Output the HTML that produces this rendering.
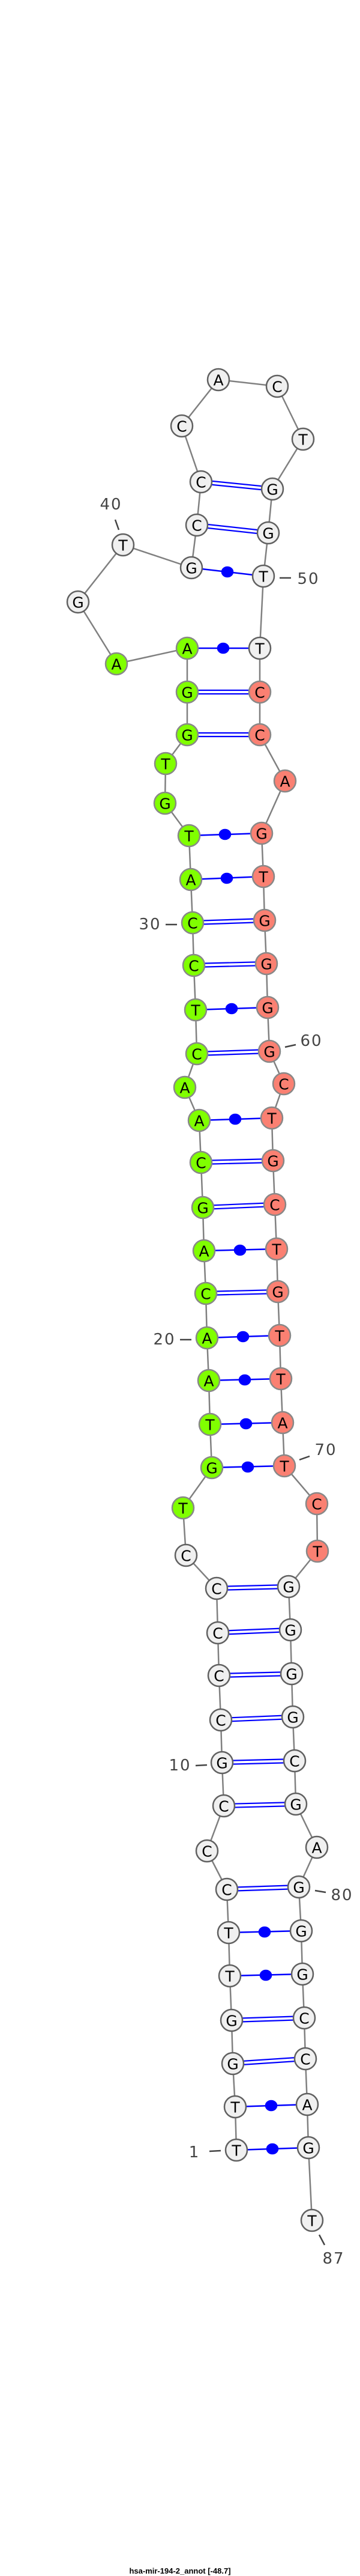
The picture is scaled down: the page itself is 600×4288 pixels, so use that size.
<!DOCTYPE html>
<html><head><meta charset="utf-8"><style>html,body{margin:0;padding:0;background:#fff}svg{display:block}</style></head><body>
<svg width="600" height="4288" viewBox="0 0 600 4288" xmlns="http://www.w3.org/2000/svg">
<rect width="600" height="4288" fill="#fff"/>
<polyline fill="none" stroke="#808080" stroke-width="2.5" points="394,3579 392,3507 388,3435 386,3363 383,3289 381,3217 378,3145 345,3081 373,3006 370,2934 368,2863 365,2789 363,2718 361,2644 310,2589 305,2510 353,2443 350,2371 348,2298 345,2227 343,2153 340,2082 338,2010 335,1935 332,1865 308,1810 328,1754 326,1681 323,1607 321,1536 318,1464 315,1391 275,1337 276,1271 312,1223 312,1152 312,1079 194,1105 130,1002 205,907 319,945 328,874 335,802 303,709 364,632 462,643 505,731 454,814 447,887 439,959 433,1079 433,1152 433,1223 475,1300 436,1387 439,1459 441,1532 444,1604 446,1677 449,1750 473,1804 453,1861 455,1932 458,2005 461,2079 463,2150 466,2223 468,2295 471,2368 474,2440 528,2503 529,2582 481,2641 484,2713 486,2786 488,2858 491,2931 493,3003 528,3075 498,3141 502,3214 504,3286 507,3359 509,3427 512,3503 514,3575 520,3696"/>
<g stroke="#0000ff" stroke-width="2.5" fill="#0000ff">
<line x1="394" y1="3579" x2="514" y2="3575"/><ellipse cx="454" cy="3577" rx="9" ry="8"/>
<line x1="392" y1="3507" x2="512" y2="3503"/><ellipse cx="452" cy="3505" rx="9" ry="8"/>
<line x1="383" y1="3289" x2="504" y2="3286"/><ellipse cx="443" cy="3288" rx="9" ry="8"/>
<line x1="381" y1="3217" x2="502" y2="3214"/><ellipse cx="441" cy="3216" rx="9" ry="8"/>
<line x1="353" y1="2443" x2="474" y2="2440"/><ellipse cx="413" cy="2442" rx="9" ry="8"/>
<line x1="350" y1="2371" x2="471" y2="2368"/><ellipse cx="410" cy="2370" rx="9" ry="8"/>
<line x1="348" y1="2298" x2="468" y2="2295"/><ellipse cx="408" cy="2297" rx="9" ry="8"/>
<line x1="345" y1="2227" x2="466" y2="2223"/><ellipse cx="405" cy="2225" rx="9" ry="8"/>
<line x1="340" y1="2082" x2="461" y2="2079"/><ellipse cx="400" cy="2081" rx="9" ry="8"/>
<line x1="332" y1="1865" x2="453" y2="1861"/><ellipse cx="392" cy="1863" rx="9" ry="8"/>
<line x1="326" y1="1681" x2="446" y2="1677"/><ellipse cx="386" cy="1679" rx="9" ry="8"/>
<line x1="318" y1="1464" x2="439" y2="1459"/><ellipse cx="378" cy="1462" rx="9" ry="8"/>
<line x1="315" y1="1391" x2="436" y2="1387"/><ellipse cx="375" cy="1389" rx="9" ry="8"/>
<line x1="312" y1="1079" x2="433" y2="1079"/><ellipse cx="372" cy="1079" rx="9" ry="8"/>
<line x1="319" y1="945" x2="439" y2="959"/><ellipse cx="379" cy="952" rx="9" ry="8"/>
</g>
<g stroke="#0000ff" stroke-width="2.2">
<line x1="388" y1="3432" x2="509" y2="3424"/><line x1="388" y1="3438" x2="509" y2="3430"/>
<line x1="386" y1="3360" x2="507" y2="3356"/><line x1="386" y1="3366" x2="507" y2="3362"/>
<line x1="378" y1="3142" x2="498" y2="3138"/><line x1="378" y1="3148" x2="498" y2="3144"/>
<line x1="373" y1="3003" x2="493" y2="3000"/><line x1="373" y1="3009" x2="493" y2="3006"/>
<line x1="370" y1="2931" x2="491" y2="2928"/><line x1="370" y1="2937" x2="491" y2="2934"/>
<line x1="368" y1="2860" x2="488" y2="2855"/><line x1="368" y1="2866" x2="488" y2="2861"/>
<line x1="365" y1="2786" x2="486" y2="2783"/><line x1="365" y1="2792" x2="486" y2="2789"/>
<line x1="363" y1="2715" x2="484" y2="2710"/><line x1="363" y1="2721" x2="484" y2="2716"/>
<line x1="361" y1="2641" x2="481" y2="2638"/><line x1="361" y1="2647" x2="481" y2="2644"/>
<line x1="343" y1="2150" x2="463" y2="2147"/><line x1="343" y1="2156" x2="463" y2="2153"/>
<line x1="338" y1="2007" x2="458" y2="2002"/><line x1="338" y1="2013" x2="458" y2="2008"/>
<line x1="335" y1="1932" x2="455" y2="1929"/><line x1="335" y1="1938" x2="455" y2="1935"/>
<line x1="328" y1="1751" x2="449" y2="1747"/><line x1="328" y1="1757" x2="449" y2="1753"/>
<line x1="323" y1="1604" x2="444" y2="1601"/><line x1="323" y1="1610" x2="444" y2="1607"/>
<line x1="321" y1="1533" x2="441" y2="1529"/><line x1="321" y1="1539" x2="441" y2="1535"/>
<line x1="312" y1="1220" x2="433" y2="1220"/><line x1="312" y1="1226" x2="433" y2="1226"/>
<line x1="312" y1="1149" x2="433" y2="1149"/><line x1="312" y1="1155" x2="433" y2="1155"/>
<line x1="328" y1="871" x2="447" y2="884"/><line x1="328" y1="877" x2="447" y2="890"/>
<line x1="335" y1="799" x2="454" y2="811"/><line x1="335" y1="805" x2="454" y2="817"/>
</g>
<g stroke-width="2.5">
<g fill="#f0f0f0" stroke="#606060">
<circle cx="394" cy="3579" r="18"/><circle cx="392" cy="3507" r="18"/><circle cx="388" cy="3435" r="18"/><circle cx="386" cy="3363" r="18"/><circle cx="383" cy="3289" r="18"/><circle cx="381" cy="3217" r="18"/><circle cx="378" cy="3145" r="18"/><circle cx="345" cy="3081" r="18"/><circle cx="373" cy="3006" r="18"/><circle cx="370" cy="2934" r="18"/><circle cx="368" cy="2863" r="18"/><circle cx="365" cy="2789" r="18"/><circle cx="363" cy="2718" r="18"/><circle cx="361" cy="2644" r="18"/><circle cx="310" cy="2589" r="18"/>
<circle cx="130" cy="1002" r="18"/><circle cx="205" cy="907" r="18"/><circle cx="319" cy="945" r="18"/><circle cx="328" cy="874" r="18"/><circle cx="335" cy="802" r="18"/><circle cx="303" cy="709" r="18"/><circle cx="364" cy="632" r="18"/><circle cx="462" cy="643" r="18"/><circle cx="505" cy="731" r="18"/><circle cx="454" cy="814" r="18"/><circle cx="447" cy="887" r="18"/><circle cx="439" cy="959" r="18"/><circle cx="433" cy="1079" r="18"/>
<circle cx="481" cy="2641" r="18"/><circle cx="484" cy="2713" r="18"/><circle cx="486" cy="2786" r="18"/><circle cx="488" cy="2858" r="18"/><circle cx="491" cy="2931" r="18"/><circle cx="493" cy="3003" r="18"/><circle cx="528" cy="3075" r="18"/><circle cx="498" cy="3141" r="18"/><circle cx="502" cy="3214" r="18"/><circle cx="504" cy="3286" r="18"/><circle cx="507" cy="3359" r="18"/><circle cx="509" cy="3427" r="18"/><circle cx="512" cy="3503" r="18"/><circle cx="514" cy="3575" r="18"/><circle cx="520" cy="3696" r="18"/>
</g>
<g fill="#80ff00" stroke="#888">
<circle cx="305" cy="2510" r="18"/><circle cx="353" cy="2443" r="18"/><circle cx="350" cy="2371" r="18"/><circle cx="348" cy="2298" r="18"/><circle cx="345" cy="2227" r="18"/><circle cx="343" cy="2153" r="18"/><circle cx="340" cy="2082" r="18"/><circle cx="338" cy="2010" r="18"/><circle cx="335" cy="1935" r="18"/><circle cx="332" cy="1865" r="18"/><circle cx="308" cy="1810" r="18"/><circle cx="328" cy="1754" r="18"/><circle cx="326" cy="1681" r="18"/><circle cx="323" cy="1607" r="18"/><circle cx="321" cy="1536" r="18"/><circle cx="318" cy="1464" r="18"/><circle cx="315" cy="1391" r="18"/><circle cx="275" cy="1337" r="18"/><circle cx="276" cy="1271" r="18"/><circle cx="312" cy="1223" r="18"/><circle cx="312" cy="1152" r="18"/><circle cx="312" cy="1079" r="18"/><circle cx="194" cy="1105" r="18"/>
</g>
<g fill="#fa8072" stroke="#888">
<circle cx="433" cy="1152" r="18"/><circle cx="433" cy="1223" r="18"/><circle cx="475" cy="1300" r="18"/><circle cx="436" cy="1387" r="18"/><circle cx="439" cy="1459" r="18"/><circle cx="441" cy="1532" r="18"/><circle cx="444" cy="1604" r="18"/><circle cx="446" cy="1677" r="18"/><circle cx="449" cy="1750" r="18"/><circle cx="473" cy="1804" r="18"/><circle cx="453" cy="1861" r="18"/><circle cx="455" cy="1932" r="18"/><circle cx="458" cy="2005" r="18"/><circle cx="461" cy="2079" r="18"/><circle cx="463" cy="2150" r="18"/><circle cx="466" cy="2223" r="18"/><circle cx="468" cy="2295" r="18"/><circle cx="471" cy="2368" r="18"/><circle cx="474" cy="2440" r="18"/><circle cx="528" cy="2503" r="18"/><circle cx="529" cy="2582" r="18"/>
</g>
</g>
<g font-family="DejaVu Sans, Liberation Sans, sans-serif" font-size="25" text-anchor="middle" fill="#000" dominant-baseline="central">
<text x="394" y="3580">T</text><text x="392" y="3508">T</text><text x="388" y="3436">G</text><text x="386" y="3364">G</text><text x="383" y="3290">T</text><text x="381" y="3218">T</text><text x="378" y="3146">C</text><text x="345" y="3082">C</text><text x="373" y="3007">C</text><text x="370" y="2935">G</text><text x="368" y="2864">C</text><text x="365" y="2790">C</text><text x="363" y="2719">C</text><text x="361" y="2645">C</text><text x="310" y="2590">C</text><text x="305" y="2511">T</text><text x="353" y="2444">G</text><text x="350" y="2372">T</text><text x="348" y="2299">A</text><text x="345" y="2228">A</text><text x="343" y="2154">C</text><text x="340" y="2083">A</text><text x="338" y="2011">G</text><text x="335" y="1936">C</text><text x="332" y="1866">A</text><text x="308" y="1811">A</text><text x="328" y="1755">C</text><text x="326" y="1682">T</text><text x="323" y="1608">C</text><text x="321" y="1537">C</text><text x="318" y="1465">A</text><text x="315" y="1392">T</text><text x="275" y="1338">G</text><text x="276" y="1272">T</text><text x="312" y="1224">G</text><text x="312" y="1153">G</text><text x="312" y="1080">A</text><text x="194" y="1106">A</text><text x="130" y="1003">G</text><text x="205" y="908">T</text><text x="319" y="946">G</text><text x="328" y="875">C</text><text x="335" y="803">C</text><text x="303" y="710">C</text><text x="364" y="633">A</text><text x="462" y="644">C</text><text x="505" y="732">T</text><text x="454" y="815">G</text><text x="447" y="888">G</text><text x="439" y="960">T</text><text x="433" y="1080">T</text><text x="433" y="1153">C</text><text x="433" y="1224">C</text><text x="475" y="1301">A</text><text x="436" y="1388">G</text><text x="439" y="1460">T</text><text x="441" y="1533">G</text><text x="444" y="1605">G</text><text x="446" y="1678">G</text><text x="449" y="1751">G</text><text x="473" y="1805">C</text><text x="453" y="1862">T</text><text x="455" y="1933">G</text><text x="458" y="2006">C</text><text x="461" y="2080">T</text><text x="463" y="2151">G</text><text x="466" y="2224">T</text><text x="468" y="2296">T</text><text x="471" y="2369">A</text><text x="474" y="2441">T</text><text x="528" y="2504">C</text><text x="529" y="2583">T</text><text x="481" y="2642">G</text><text x="484" y="2714">G</text><text x="486" y="2787">G</text><text x="488" y="2859">G</text><text x="491" y="2932">C</text><text x="493" y="3004">G</text><text x="528" y="3076">A</text><text x="498" y="3142">G</text><text x="502" y="3215">G</text><text x="504" y="3287">G</text><text x="507" y="3360">C</text><text x="509" y="3428">C</text><text x="512" y="3504">A</text><text x="514" y="3576">G</text><text x="520" y="3697">T</text>
</g>
<g stroke="#444" stroke-width="2.5">
<line x1="349" y1="3581" x2="368" y2="3580"/>
<line x1="326" y1="2939" x2="345" y2="2938"/>
<line x1="300" y1="2230" x2="319" y2="2230"/>
<line x1="276" y1="1539" x2="295" y2="1539"/>
<line x1="192" y1="865" x2="198" y2="882"/>
<line x1="466" y1="962" x2="485" y2="962"/>
<line x1="475" y1="1743" x2="493" y2="1739"/>
<line x1="499" y1="2430" x2="516" y2="2424"/>
<line x1="525" y1="3147" x2="543" y2="3150"/>
<line x1="532" y1="3720" x2="541" y2="3737"/>
</g>
<g font-family="DejaVu Sans, Liberation Sans, sans-serif" font-size="26" letter-spacing="2" text-anchor="middle" fill="#444" dominant-baseline="central">
<text x="324" y="3583">1</text>
<text x="300" y="2939">10</text>
<text x="274" y="2230">20</text>
<text x="250" y="1539">30</text>
<text x="185" y="840">40</text>
<text x="514" y="964">50</text>
<text x="519" y="1733">60</text>
<text x="543" y="2414">70</text>
<text x="570" y="3155">80</text>
<text x="556" y="3760">87</text>
</g>
<text x="300" y="4284" font-family="Liberation Sans, sans-serif" font-size="13" font-weight="bold" text-anchor="middle" fill="#000">hsa-mir-194-2_annot [-48.7]</text>
</svg>
</body></html>
